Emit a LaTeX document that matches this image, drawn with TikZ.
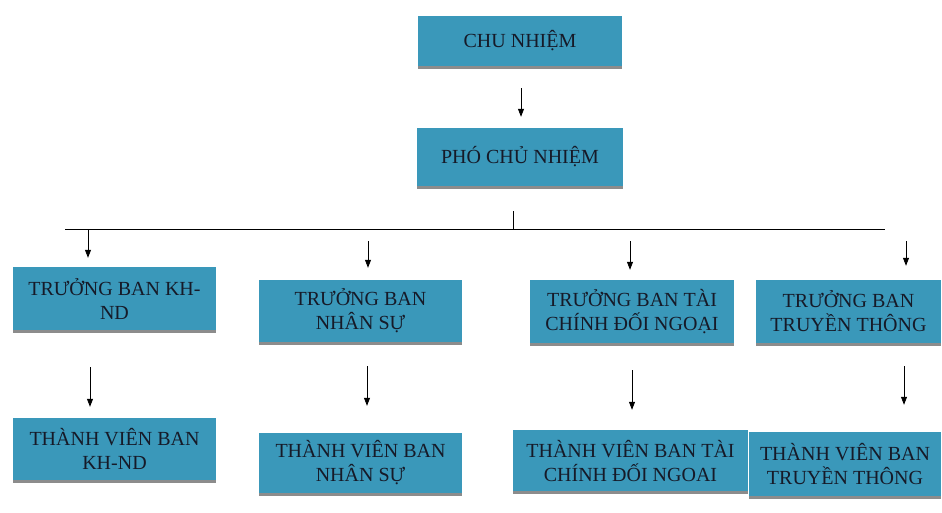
\documentclass[tikz,border=0pt]{standalone}
\usepackage{fontspec}
\setmainfont{Liberation Serif}
\usepackage{tikz}
\usetikzlibrary{arrows.meta, positioning, calc, shadows}

\definecolor{boxteal}{RGB}{58,152,186}
\definecolor{boxtext}{RGB}{22,26,40}

\begin{document}
\begin{tikzpicture}[x=1pt, y=-1pt,
  ban/.style={rectangle, fill=boxteal, text=boxtext, align=center, inner sep=1pt,
    font=\fontsize{20}{24}\selectfont,
    drop shadow={shadow xshift=0pt, shadow yshift=-2.5pt, fill=black!45, opacity=1}},
  arr/.style={-{Triangle[length=8pt,width=6pt]}, line width=0.8pt}]
\useasboundingbox (0,0) rectangle (942,512);

% Top
\node[ban, minimum width=204pt, minimum height=50pt] (chu) at (520,41) {CHU NHIỆM};
\node[ban, minimum width=206pt, minimum height=58pt] (pho) at (520,157) {PHÓ CHỦ NHIỆM};
\draw[arr] ([xshift=1pt,yshift=-22pt]chu.south) -- ([xshift=1pt,yshift=11pt]pho.north);

% Heads of departments
\node[ban, minimum width=203pt, minimum height=63pt] (kh) at (114.5,298.5) {TRƯỞNG BAN KH-\\ND};
\node[ban, minimum width=203pt, minimum height=62pt] (ns) at (360.5,311) {TRƯỞNG BAN\\NHÂN SỰ};
\node[ban, minimum width=204pt, minimum height=63pt] (tc) at (632,311.5) {TRƯỞNG BAN TÀI\\CHÍNH ĐỐI NGOẠI};
\node[ban, minimum width=185pt, minimum height=63pt] (tt) at (848.5,311.5) {TRƯỞNG BAN\\TRUYỀN THÔNG};

% Members
\node[ban, minimum width=203pt, minimum height=62pt] (tvkh) at (114.5,449) {THÀNH VIÊN BAN\\KH-ND};
\node[ban, minimum width=203pt, minimum height=60pt] (tvns) at (360.5,463) {THÀNH VIÊN BAN\\NHÂN SỰ};
\node[ban, minimum width=235pt, minimum height=61pt] (tvtc) at (630.5,460.5) {THÀNH VIÊN BAN TÀI\\CHÍNH ĐỐI NGOAI};
\node[ban, minimum width=192pt, minimum height=64pt] (tvtt) at (845,464) {THÀNH VIÊN BAN\\TRUYỀN THÔNG};

% Branch line
\coordinate (hl) at (65,229);
\coordinate (hr) at (885,229);
\coordinate (tick) at (513,211);
\draw[line width=0.8pt] (hl) -- (hr);
\draw[line width=0.8pt] (tick) -- (tick |- hl);

\coordinate (a1) at (88,229);
\coordinate (a2) at (368,241);
\coordinate (a3) at (630,241);
\coordinate (a4) at (906,241);
\draw[arr] (a1) -- ([yshift=9pt]a1 |- kh.north);
\draw[arr] (a2) -- ([yshift=12pt]a2 |- ns.north);
\draw[arr] (a3) -- ([yshift=10pt]a3 |- tc.north);
\draw[arr] (a4) -- ([yshift=14pt]a4 |- tt.north);

\coordinate (m1) at (90,367);
\coordinate (m2) at (367,366);
\coordinate (m3) at (632,370);
\coordinate (m4) at (904,366);
\draw[arr] (m1) -- ([yshift=11pt]m1 |- tvkh.north);
\draw[arr] (m2) -- ([yshift=27pt]m2 |- tvns.north);
\draw[arr] (m3) -- ([yshift=20pt]m3 |- tvtc.north);
\draw[arr] (m4) -- ([yshift=27pt]m4 |- tvtt.north);
\end{tikzpicture}
\end{document}
